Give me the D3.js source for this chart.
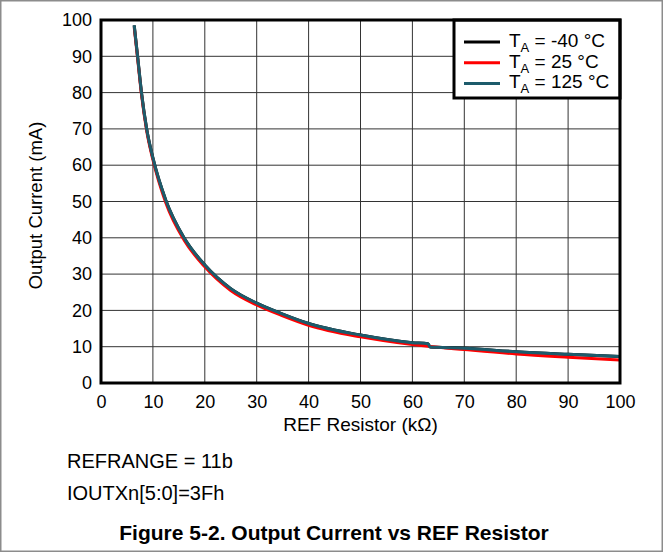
<!DOCTYPE html>
<html>
<head>
<meta charset="utf-8">
<script src="https://cdn.jsdelivr.net/npm/d3@7"></script>
<style>
  body { margin: 0; background: #fff; }
  svg text { font-family: "Liberation Sans", Arial, sans-serif; }
</style>
</head>
<body>
<div id="chart"></div>
<script>
// values (REF resistor in kOhm, output current in mA)
var resTeal = [6.4, 7.05, 7.8, 8.8, 10, 12.5, 16, 20, 25, 30, 35, 40, 50, 60, 63, 63.4, 70, 80, 90, 100];
var cur125  = [98.5, 90, 80, 70, 62, 50.3, 40, 32.5, 26, 22, 19, 16.4, 13.2, 11.1, 10.8, 9.9, 9.6, 8.6, 7.9, 7.3];
var curM40  = [98.5, 90, 80, 70, 62, 50.3, 40, 32.5, 26, 22, 19, 16.4, 13.2, 11.1, 10.8, 9.9, 9.6, 8.6, 7.9, 7.3];
var resRed  = [6.4, 7.05, 7.8, 8.8, 10, 12.5, 16, 20, 25, 30, 35, 40, 50, 60, 63, 70, 80, 90, 100];
var cur25   = [98, 89.5, 79.5, 69.5, 61.5, 49.6, 39.4, 32, 25.5, 21.5, 18.5, 15.9, 12.7, 10.6, 10.1, 9.2, 8.0, 7.1, 6.3];

var xTicks = [0, 10, 20, 30, 40, 50, 60, 70, 80, 90, 100];
var yTicks = [0, 10, 20, 30, 40, 50, 60, 70, 80, 90, 100];

var seriesNames = ["-40 °C", "25 °C", "125 °C"];
var seriesColors = ["#000000", "#ff0000", "#1d5b6b"];

var W = 663, H = 552;
var margin = { top: 20, right: 43, bottom: 169, left: 101 };
var width = W - margin.left - margin.right;
var height = H - margin.top - margin.bottom;

var svg = d3.select("#chart").append("svg")
  .attr("width", W)
  .attr("height", H);

// outer frame of the figure
svg.append("rect")
  .attr("x", 0.75).attr("y", 0.75)
  .attr("width", W - 1.5).attr("height", H - 1.5)
  .attr("fill", "none").attr("stroke", "#8c8c8c").attr("stroke-width", 1.5);

var g = svg.append("g")
  .attr("transform", `translate(${margin.left}, ${margin.top})`);

var x = d3.scaleLinear().domain([0, 100]).range([0, width]);
var y = d3.scaleLinear().domain([0, 100]).range([height, 0]);

// grid
g.append("g").selectAll("line.vg")
  .data(xTicks.slice(1, -1))
  .join("line")
  .attr("x1", d => x(d)).attr("x2", d => x(d))
  .attr("y1", 0).attr("y2", height)
  .attr("stroke", "#333").attr("stroke-width", 1);

g.append("g").selectAll("line.hg")
  .data(yTicks.slice(1, -1))
  .join("line")
  .attr("x1", 0).attr("x2", width)
  .attr("y1", d => y(d)).attr("y2", d => y(d))
  .attr("stroke", "#333").attr("stroke-width", 1);

// axes (labels only, the frame is drawn separately)
var xAxis = d3.axisBottom(x).tickValues(xTicks).tickSize(0).tickPadding(12);
var yAxis = d3.axisLeft(y).tickValues(yTicks).tickSize(0).tickPadding(9);

g.append("g")
  .attr("class", "x axis")
  .attr("transform", `translate(0, ${height})`)
  .call(xAxis)
  .call(a => a.select(".domain").remove())
  .selectAll("text").attr("font-size", 18).attr("fill", "#000");

g.append("g")
  .attr("class", "y axis")
  .call(yAxis)
  .call(a => a.select(".domain").remove())
  .selectAll("text").attr("font-size", 18).attr("fill", "#000");

// curves
var line = d3.line()
  .x(d => x(d[0]))
  .y(d => y(d[1]))
  .curve(d3.curveMonotoneX);

var series = [
  d3.zip(resTeal, curM40),
  d3.zip(resRed, cur25),
  d3.zip(resTeal, cur125)
];

g.selectAll(".line")
  .data(series)
  .join("path")
  .attr("class", "line")
  .attr("fill", "none")
  .attr("stroke", (d, i) => seriesColors[i])
  .attr("stroke-width", 3)
  .attr("stroke-linejoin", "round")
  .attr("d", line);

// legend
var legend = g.append("g").attr("transform", `translate(${width - 166}, 0)`);
legend.append("rect")
  .attr("width", 166).attr("height", 78)
  .attr("fill", "#fff").attr("stroke", "#000").attr("stroke-width", 3);

var rows = legend.selectAll("g.row")
  .data(seriesNames)
  .join("g")
  .attr("class", "row")
  .attr("transform", (d, i) => `translate(0, ${22 + i * 20.7})`);

rows.append("line")
  .attr("x1", 10).attr("x2", 46)
  .attr("stroke", (d, i) => seriesColors[i]).attr("stroke-width", 3);

var lt = rows.append("text")
  .attr("x", 55).attr("y", 5)
  .attr("font-size", 19);
lt.append("tspan").text("T");
lt.append("tspan").attr("font-size", 13).attr("dy", 5).text("A");
lt.append("tspan").attr("dy", -5).text(d => " = " + d);

// frame
g.append("rect")
  .attr("width", width).attr("height", height)
  .attr("fill", "none").attr("stroke", "#000").attr("stroke-width", 3);

// axis titles
svg.append("text")
  .attr("x", margin.left + width / 2).attr("y", 431)
  .attr("text-anchor", "middle").attr("font-size", 19)
  .text("REF Resistor (kΩ)");

svg.append("text")
  .attr("transform", `translate(42, ${margin.top + height / 2 + 4}) rotate(-90)`)
  .attr("text-anchor", "middle").attr("font-size", 18.5)
  .text("Output Current (mA)");

// notes and caption
svg.append("text").attr("x", 67).attr("y", 468).attr("font-size", 20).text("REFRANGE = 11b");
svg.append("text").attr("x", 67).attr("y", 500).attr("font-size", 20).text("IOUTXn[5:0]=3Fh");
svg.append("text")
  .attr("x", 334).attr("y", 540)
  .attr("text-anchor", "middle").attr("font-size", 21).attr("font-weight", "bold")
  .text("Figure 5-2. Output Current vs REF Resistor");
</script>
</body>
</html>
